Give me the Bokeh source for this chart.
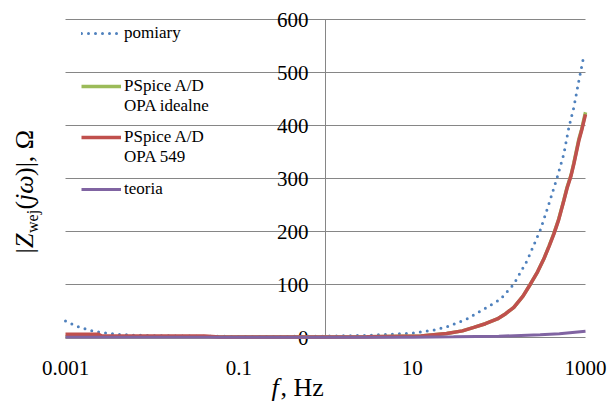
import math
from bokeh.plotting import figure
from bokeh.models import Label, Legend, LegendItem
from bokeh.core.properties import value
from bokeh.embed import file_html
from bokeh.resources import INLINE

# ---------------- data ----------------
x_ticks = [0.001, 0.1, 10, 1000]
x_tick_labels = ["0.001", "0.1", "10", "1000"]
y_ticks = [0, 100, 200, 300, 400, 500, 600]
y_tick_labels = ["0", "100", "200", "300", "400", "500", "600"]
y_axis_cross = 1  # value axis crosses the frequency axis at 1 Hz

# pomiary (measurement)
f_meas = [0.001, 0.0012, 0.0014, 0.0017, 0.002, 0.0025, 0.003, 0.004, 0.006, 0.01,
          0.03, 0.1, 0.3, 1, 3, 10, 18, 25, 43, 73, 104, 149, 212, 303, 378, 471,
          562, 642, 733, 837, 940, 1000]
z_meas = [31, 25, 20.5, 16, 13, 10, 8, 6, 4.5, 3.5,
          2.5, 2, 2, 2.5, 4, 8, 14, 20, 35, 57, 72, 101, 145, 204, 252, 302,
          346, 396, 434, 484, 525, 530]

# PSpice A/D, OPA idealne
f_ideal = [0.001, 0.06, 1, 3, 12.6, 25, 38, 51.5, 70, 96, 120, 149, 190, 232, 280, 330,
           380, 431, 490, 562, 614, 680, 733, 837, 900, 1000]
z_ideal = [1, 1, 1, 1.5, 3, 7.5, 12.5, 19, 26, 35, 45, 57, 78, 101, 124, 148,
           173, 196, 223, 259, 284, 306, 329, 374, 392, 425]

# PSpice A/D, OPA 549
f_opa = [0.001, 0.0024, 0.0026, 0.04, 0.06, 1, 3, 12.6, 25, 38, 51.5, 70, 96, 120, 149,
         190, 232, 280, 330, 380, 431, 490, 562, 614, 680, 733, 837, 900, 1000]
z_opa = [6, 6, 3, 3, 1, 1, 1.5, 3, 7.5, 12.5, 19, 26, 35, 45, 57,
         78, 101, 124, 148, 172, 195, 222, 258, 282, 305, 327, 371, 390, 421]

# teoria
f_theory = [0.001, 1, 10, 30, 100, 300, 500, 1000]
z_theory = [0.3, 0.4, 0.6, 1.2, 2.5, 5, 7, 12]

legend_lines = [("pomiary", 0), ("PSpice A/D", 1), ("OPA idealne", None),
                ("PSpice A/D", 2), ("OPA 549", None), ("teoria", 3)]

# ---------------- figure (frame covers the whole canvas) ----------------
FONT = "Times New Roman"
GRID = "#868686"
W, H = 616, 403
FX0, FX1, FY0, FY1 = 65, 585, 19, 337   # plot-area edges in canvas px
PX_DEC = (FX1 - FX0) / 6.0
PX_Y = (FY1 - FY0) / 600.0
x_lo = 10 ** (math.log10(x_ticks[0]) - FX0 / PX_DEC)
x_hi = 10 ** (math.log10(x_ticks[-1]) + (W - FX1) / PX_DEC)
y_lo = y_ticks[0] - (H - FY1) / PX_Y
y_hi = y_ticks[-1] + FY0 / PX_Y


def px_x(px):
    return 10 ** (math.log10(x_ticks[0]) + (px - FX0) / PX_DEC)


def px_y(py):
    return y_ticks[0] + (FY1 - py) / PX_Y


p = figure(width=W, height=H, x_axis_type="log",
           x_range=(x_lo, x_hi), y_range=(y_lo, y_hi),
           x_axis_location=None, y_axis_location=None,
           output_backend="svg", toolbar_location=None,
           min_border=0, min_border_left=0, min_border_right=0,
           min_border_top=0, min_border_bottom=0)
p.outline_line_color = None
p.grid.visible = False
p.background_fill_color = "white"
p.border_fill_color = "white"

# horizontal gridlines between the first and last frequency tick
p.segment(x0=[x_ticks[0]] * len(y_ticks), y0=y_ticks,
          x1=[x_ticks[-1]] * len(y_ticks), y1=y_ticks,
          line_color=GRID, line_width=1)
# value axis line at 1 Hz
p.segment(x0=[y_axis_cross], y0=[y_ticks[0]], x1=[y_axis_cross], y1=[y_ticks[-1]],
          line_color=GRID, line_width=1)

# tick labels
p.text(x=[y_axis_cross] * len(y_ticks), y=y_ticks, text=y_tick_labels,
       text_align="right", text_baseline="middle", x_offset=-17,
       text_font=value(FONT), text_font_size="21px", text_color="black")
p.text(x=x_ticks, y=[y_ticks[0]] * len(x_ticks), text=x_tick_labels,
       text_align="center", text_baseline="middle", y_offset=30,
       text_font=value(FONT), text_font_size="21px", text_color="black")

# ---------------- series ----------------
BLUE, GREEN, RED, PURPLE = "#4F81BD", "#9BBB59", "#C0504D", "#8064A2"

r_meas = p.line(f_meas, z_meas, line_color=BLUE, line_width=3, line_dash="0 7",
                line_cap="round")
r_ideal = p.line(f_ideal, z_ideal, line_color=GREEN, line_width=3.5)
r_opa = p.line(f_opa, z_opa, line_color=RED, line_width=3.5)
r_theory = p.line(f_theory, z_theory, line_color=PURPLE, line_width=3)
r_blank = p.line(x=[], y=[], line_alpha=0)
series_renderers = [r_meas, r_ideal, r_opa, r_theory]

# ---------------- legend (one entry per text line) ----------------
legend_centers = [33, 86, 106, 136.5, 156.5, 189]   # canvas px from top
for (txt, idx), c in zip(legend_lines, legend_centers):
    rend = series_renderers[idx] if idx is not None else r_blank
    lg = Legend(items=[LegendItem(label=txt, renderers=[rend])],
                location=(81, H - c - 10), orientation="vertical",
                glyph_width=40, glyph_height=20, label_height=20,
                label_standoff=3, spacing=0, padding=0, margin=0,
                border_line_color=None, background_fill_alpha=0,
                label_text_font=FONT, label_text_font_size="17px",
                label_text_color="black")
    p.add_layout(lg, "center")

# ---------------- axis titles ----------------
def lab(text, px, py, size="26px", style="normal", angle=0.0):
    p.add_layout(Label(x=px_x(px), y=px_y(py), x_units="data", y_units="data", text=text,
                       text_font=FONT, text_font_size=size, text_font_style=style,
                       text_color="black", angle=angle, text_align="left",
                       text_baseline="alphabetic"))

# x title: "f, Hz"
lab("f", 271, 387, style="italic")
lab(", Hz", 280, 387)

# y title: "|Z_wej(jω)|, Ω" rotated (reads bottom to top)
A = math.pi / 2
y0 = 253
lab("|", 23.5, y0, angle=A)
lab("Z", 23.5, y0 - 5.5, style="italic", angle=A)
lab("wej", 31.5, y0 - 20.5, size="16px", angle=A)
lab("(", 23.5, y0 - 44, angle=A)
lab("jω", 23.5, y0 - 52.5, style="italic", angle=A)
lab(")|, Ω", 23.5, y0 - 77.5, angle=A)

open("out.html", "w").write(file_html(p, INLINE))
